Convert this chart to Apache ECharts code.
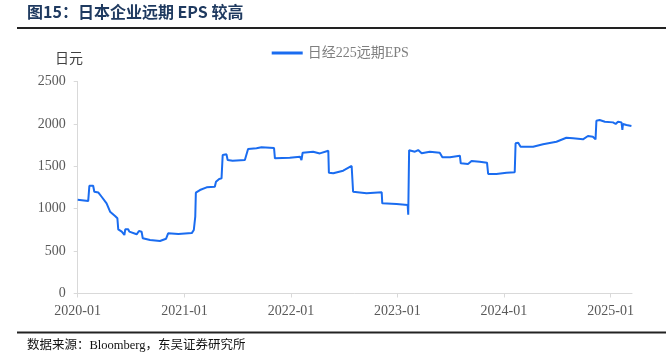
<!DOCTYPE html>
<html>
<head>
<meta charset="utf-8">
<script src="https://cdn.jsdelivr.net/npm/echarts@6/dist/echarts.min.js"></script>
<style>html,body{margin:0;padding:0;background:#fff;}#c{width:666px;height:360px;}</style>
</head>
<body>
<div id="c"></div>
<script>
const seriesName = '日经225远期EPS';
const dates = ['2020-01-01','2020-02-06','2020-02-10','2020-02-23','2020-02-27','2020-03-12','2020-03-23','2020-04-09','2020-04-21','2020-05-08','2020-05-16','2020-05-19','2020-05-31','2020-06-09','2020-06-12','2020-06-22','2020-06-26','2020-07-21','2020-07-29','2020-08-07','2020-08-11','2020-09-05','2020-10-09','2020-10-30','2020-11-06','2020-12-11','2021-01-26','2021-02-02','2021-02-07','2021-02-09','2021-02-23','2021-03-18','2021-04-15','2021-04-19','2021-04-30','2021-05-08','2021-05-12','2021-05-25','2021-05-29','2021-06-15','2021-07-27','2021-08-07','2021-09-05','2021-09-22','2021-11-04','2021-11-07','2021-12-28','2022-02-01','2022-02-06','2022-02-10','2022-03-18','2022-04-10','2022-05-09','2022-05-11','2022-05-26','2022-06-29','2022-07-28','2022-08-02','2022-09-17','2022-11-08','2022-11-10','2022-12-29','2023-02-05','2023-02-07','2023-02-10','2023-03-02','2023-03-13','2023-03-25','2023-04-22','2023-05-26','2023-06-04','2023-06-30','2023-08-03','2023-08-06','2023-08-31','2023-09-12','2023-10-10','2023-11-04','2023-11-08','2023-12-06','2024-01-10','2024-02-07','2024-02-10','2024-02-19','2024-02-27','2024-04-10','2024-05-14','2024-06-29','2024-08-02','2024-08-25','2024-09-28','2024-10-15','2024-11-01','2024-11-10','2024-11-13','2024-11-24','2024-12-12','2025-01-09','2025-01-18','2025-01-26','2025-02-07','2025-02-10','2025-02-12','2025-02-24','2025-03-13'];
const eps = [1105,1090,1270,1270,1200,1190,1141,1063,965,914,887,757,729,690,757,757,729,698,737,729,651,631,619,646,710,702,712,749,906,1189,1220,1252,1259,1318,1350,1358,1633,1641,1574,1566,1574,1704,1712,1724,1716,1594,1601,1613,1574,1660,1672,1652,1684,1425,1417,1448,1504,1200,1181,1193,1063,1055,1043,930,1690,1672,1692,1653,1672,1660,1606,1606,1625,1535,1527,1562,1554,1543,1409,1409,1425,1429,1771,1778,1731,1731,1759,1790,1837,1830,1818,1857,1849,1818,2038,2046,2026,2018,1999,2026,2018,1928,1999,1987,1975];
const yTicks = [0, 500, 1000, 1500, 2000, 2500];
const titleText = '图15：日本企业远期 EPS 较高';
const sourceText = '数据来源：Bloomberg，东吴证券研究所';
const unitText = '日元';

const chart = echarts.init(document.getElementById('c'), null, {renderer: 'canvas'});
const serif = '"Liberation Serif", "Noto Sans CJK SC", serif';
const YEAR = 365 * 24 * 3600 * 1000;
chart.setOption({
  animation: false,
  backgroundColor: '#fff',
  grid: {left: 77.7, right: 34, top: 81.5, bottom: 66.5},
  legend: {
    left: 266.7, top: 41,
    itemWidth: 31, itemHeight: 3, itemGap: 10,
    icon: 'rect',
    textStyle: {color: '#7f7f7f', fontSize: 14, fontFamily: serif},
    data: [{name: seriesName}]
  },
  xAxis: {
    type: 'time',
    min: '2020-01-01', max: '2025-03-15',
    minInterval: YEAR, maxInterval: YEAR,
    splitLine: {show: false},
    axisLine: {lineStyle: {color: '#d9d9d9', width: 1}},
    axisTick: {show: true, length: 4, lineStyle: {color: '#d9d9d9'}},
    axisLabel: {
      color: '#595959', fontSize: 14, fontFamily: serif, margin: 11,
      formatter: function (v) { const d = new Date(v); return d.getFullYear() + '-' + String(d.getMonth() + 1).padStart(2, '0'); }
    }
  },
  yAxis: {
    type: 'value', min: yTicks[0], max: yTicks[yTicks.length - 1], interval: yTicks[1] - yTicks[0],
    splitLine: {show: false},
    axisLine: {show: true, lineStyle: {color: '#d9d9d9', width: 1}},
    axisTick: {show: true, length: 4, lineStyle: {color: '#d9d9d9'}},
    axisLabel: {color: '#595959', fontSize: 14, fontFamily: serif, margin: 12, formatter: function (v) { return String(v); }}
  },
  series: [{
    name: seriesName, type: 'line', showSymbol: false, symbol: 'none',
    lineStyle: {color: '#1a6cf0', width: 2},
    itemStyle: {color: '#1a6cf0'},
    data: dates.map((d, i) => [d, eps[i]])
  }],
  graphic: [
    {type: 'text', left: 27, top: 4, style: {text: titleText, fill: '#1f3a60', font: 'bold 16px "Noto Sans CJK SC", "Liberation Serif", serif'}},
    {type: 'line', shape: {x1: 17, y1: 28, x2: 666, y2: 28}, style: {stroke: '#222', lineWidth: 2}},
    {type: 'text', x: 69, y: 58, style: {text: unitText, fill: '#404040', font: '14px "Noto Sans CJK SC", sans-serif', align: 'center', verticalAlign: 'middle'}},
    {type: 'line', shape: {x1: 17, y1: 332.5, x2: 666, y2: 332.5}, style: {stroke: '#222', lineWidth: 2}},
    {type: 'text', x: 27, y: 346, style: {text: sourceText, fill: '#111', font: '12.5px "Liberation Serif", "Noto Sans CJK SC", serif', verticalAlign: 'middle'}}
  ]
});
</script>
</body>
</html>
